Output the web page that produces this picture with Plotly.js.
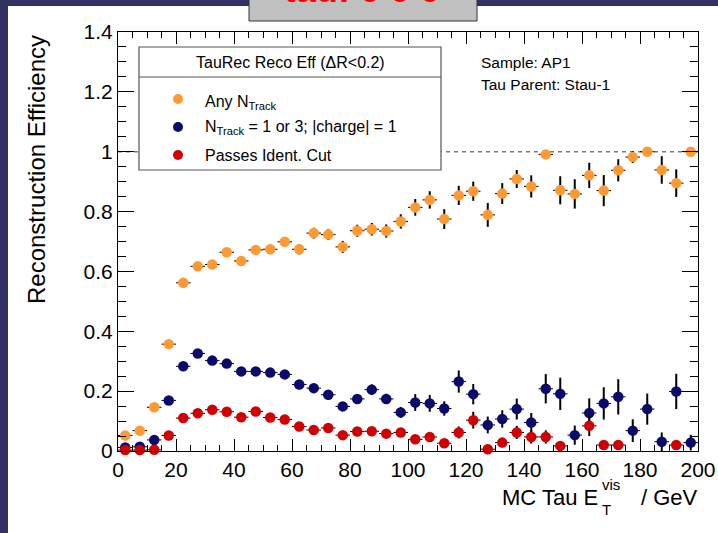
<!DOCTYPE html>
<html>
<head>
<meta charset="utf-8">
<script src="https://cdn.plot.ly/plotly-3.0.1.min.js"></script>
<style>
  html, body { margin: 0; padding: 0; background: #313163; }
  #chart { width: 718px; height: 533px; }
</style>
</head>
<body>
<div id="chart"></div>
<script>
// Bin centres of the visible-ET histogram (5 GeV bins)
const etBins = [2.5, 7.5, 12.5, 17.5, 22.5, 27.5, 32.5, 37.5, 42.5, 47.5,
                52.5, 57.5, 62.5, 67.5, 72.5, 77.5, 82.5, 87.5, 92.5, 97.5,
                102.5, 107.5, 112.5, 117.5, 122.5, 127.5, 132.5, 137.5, 142.5, 147.5,
                152.5, 157.5, 162.5, 167.5, 172.5, 177.5, 182.5, 187.5, 192.5, 197.5];
const binHalfWidth = 2.5;

// Any N_Track
const effAny = [0.052, 0.068, 0.146, 0.357, 0.562, 0.617, 0.623, 0.664, 0.635, 0.672,
                0.674, 0.699, 0.674, 0.728, 0.723, 0.682, 0.736, 0.741, 0.735, 0.767,
                0.814, 0.839, 0.775, 0.854, 0.868, 0.789, 0.860, 0.909, 0.884, 0.991,
                0.871, 0.859, 0.921, 0.870, 0.938, 0.982, 1.000, 0.939, 0.895, 1.000];
const errAny = [0.006, 0.008, 0.010, 0.012, 0.012, 0.013, 0.013, 0.014, 0.014, 0.015,
                0.015, 0.016, 0.017, 0.018, 0.018, 0.020, 0.020, 0.021, 0.022, 0.024,
                0.028, 0.029, 0.033, 0.032, 0.032, 0.040, 0.035, 0.030, 0.037, 0.010,
                0.047, 0.049, 0.042, 0.052, 0.037, 0.020, 0.010, 0.046, 0.046, 0.000];

// N_Track = 1 or 3, |charge| = 1
const effTrk = [0.012, 0.014, 0.037, 0.169, 0.283, 0.326, 0.302, 0.292, 0.266, 0.266,
                0.262, 0.256, 0.222, 0.210, 0.188, 0.149, 0.174, 0.205, 0.174, 0.129,
                0.162, 0.159, 0.142, 0.232, 0.190, 0.087, 0.107, 0.140, 0.095, 0.208,
                0.191, 0.053, 0.127, 0.159, 0.181, 0.068, 0.140, 0.031, 0.199, 0.028];
const errTrk = [0.005, 0.006, 0.008, 0.012, 0.012, 0.012, 0.012, 0.012, 0.012, 0.013,
                0.013, 0.014, 0.014, 0.015, 0.015, 0.015, 0.016, 0.018, 0.017, 0.018,
                0.028, 0.028, 0.024, 0.037, 0.034, 0.028, 0.029, 0.035, 0.032, 0.049,
                0.054, 0.032, 0.049, 0.054, 0.059, 0.038, 0.052, 0.031, 0.059, 0.026];

// Passes identification cut (empty bins left out)
const effId = [0.003, 0.003, 0.004, 0.052, 0.110, 0.126, 0.138, 0.131, 0.113, 0.132,
               0.112, 0.105, 0.082, 0.070, 0.077, 0.053, 0.065, 0.066, 0.058, 0.062,
               0.039, 0.047, 0.026, 0.062, 0.103, 0.006, 0.028, 0.062, 0.047, 0.047,
               0.017, null, 0.084, 0.020, 0.020, null, null, null, 0.020, null];
const errId = [0.003, 0.003, 0.004, 0.008, 0.010, 0.010, 0.010, 0.010, 0.010, 0.010,
               0.010, 0.010, 0.010, 0.010, 0.010, 0.010, 0.010, 0.010, 0.010, 0.010,
               0.015, 0.016, 0.012, 0.020, 0.028, 0.006, 0.015, 0.022, 0.022, 0.022,
               0.012, 0, 0.034, 0.014, 0.014, 0, 0, 0, 0.014, 0];

const seriesNames = ['Any N<sub>Track</sub>',
                     'N<sub>Track</sub> = 1 or 3; |charge| = 1',
                     'Passes Ident. Cut'];
const seriesColors = ['#ff9933', '#0a0a6b', '#d20000'];

const FONT = 'Liberation Sans, Arial, Helvetica, sans-serif';

// frame geometry (pixels) used to place the hand-built legend and labels
const W = 718, H = 533;
const M = { l: 118, r: 20, t: 32, b: 82 };
const pw = W - M.l - M.r, ph = H - M.t - M.b;
const px = x => (x - M.l) / pw;
const py = y => (H - M.b - y) / ph;

function series(yv, err, color) {
  return {
    type: 'scatter', mode: 'markers', x: etBins, y: yv,
    cliponaxis: false, showlegend: false, hoverinfo: 'x+y',
    marker: { color: color, size: 10.5, line: { width: 0 } },
    error_x: { type: 'constant', value: binHalfWidth, color: '#000', thickness: 1, width: 0 },
    error_y: { type: 'data', array: err, color: '#000', thickness: 2, width: 0 }
  };
}

const traces = [
  series(effAny, errAny, seriesColors[0]),
  series(effTrk, errTrk, seriesColors[1]),
  series(effId, errId, seriesColors[2])
];

const shapes = [
  // white pad on the dark canvas
  { type: 'rect', xref: 'paper', yref: 'paper', layer: 'below',
    x0: px(8), x1: px(W + 2), y0: py(6), y1: py(H + 2),
    fillcolor: '#ffffff', line: { width: 0 } },
  // efficiency = 1 reference line
  { type: 'line', xref: 'x', yref: 'y', layer: 'below',
    x0: 0, x1: 200, y0: 1, y1: 1,
    line: { color: '#7a7a7a', width: 1.5, dash: '4px,4px' } },
  // legend box and header divider
  { type: 'rect', xref: 'paper', yref: 'paper', layer: 'above',
    x0: px(139), x1: px(441), y0: py(170), y1: py(47),
    fillcolor: '#ffffff', line: { color: '#555555', width: 1.2 } },
  { type: 'line', xref: 'paper', yref: 'paper', layer: 'above',
    x0: px(139), x1: px(441), y0: py(77), y1: py(77),
    line: { color: '#555555', width: 1.2 } },
  // title box
  { type: 'rect', xref: 'paper', yref: 'paper', layer: 'above',
    x0: px(249), x1: px(477), y0: py(21), y1: py(-10),
    fillcolor: '#c0c0c0', line: { color: '#333333', width: 1 } }
];

// legend markers
const legendRows = [99, 127, 155];
legendRows.forEach((yy, i) => {
  shapes.push({ type: 'circle', xref: 'paper', yref: 'paper', layer: 'above',
    x0: px(173), x1: px(183), y0: py(yy + 5), y1: py(yy - 5),
    fillcolor: seriesColors[i], line: { width: 0 } });
});

const annotations = [
  { text: 'tau: 0 0 0', xref: 'paper', yref: 'paper', x: px(362), y: py(12),
    xanchor: 'center', yanchor: 'bottom', showarrow: false,
    font: { family: FONT, size: 36, color: '#ff0000', weight: 'bold' } },
  { text: 'TauRec Reco Eff (ΔR<0.2)', xref: 'paper', yref: 'paper', x: px(290), y: py(62),
    xanchor: 'center', yanchor: 'middle', showarrow: false,
    font: { family: FONT, size: 16, color: '#000' } },
  { text: 'Sample: AP1', xref: 'paper', yref: 'paper', x: px(479), y: py(63),
    xanchor: 'left', yanchor: 'middle', showarrow: false,
    font: { family: FONT, size: 15.5, color: '#000' } },
  { text: 'Tau Parent: Stau-1', xref: 'paper', yref: 'paper', x: px(479), y: py(85),
    xanchor: 'left', yanchor: 'middle', showarrow: false,
    font: { family: FONT, size: 15.5, color: '#000' } },
  // axis titles
  { text: 'Reconstruction Efficiency', xref: 'paper', yref: 'paper', x: px(37), y: py(170),
    xanchor: 'center', yanchor: 'middle', textangle: -90, showarrow: false,
    font: { family: FONT, size: 24, color: '#000' } },
  { text: 'MC Tau E', xref: 'paper', yref: 'paper', x: px(600), y: py(497),
    xanchor: 'right', yanchor: 'middle', showarrow: false,
    font: { family: FONT, size: 22, color: '#000' } },
  { text: 'vis', xref: 'paper', yref: 'paper', x: px(600), y: py(484),
    xanchor: 'left', yanchor: 'middle', showarrow: false,
    font: { family: FONT, size: 15, color: '#000' } },
  { text: 'T', xref: 'paper', yref: 'paper', x: px(600), y: py(510),
    xanchor: 'left', yanchor: 'middle', showarrow: false,
    font: { family: FONT, size: 15, color: '#000' } },
  { text: '/ GeV', xref: 'paper', yref: 'paper', x: px(700), y: py(497),
    xanchor: 'right', yanchor: 'middle', showarrow: false,
    font: { family: FONT, size: 22, color: '#000' } }
];

// legend labels
[103, 127, 155].forEach((yy, i) => {
  annotations.push({ text: seriesNames[i], xref: 'paper', yref: 'paper',
    x: px(203), y: py(yy), xanchor: 'left', yanchor: 'middle', showarrow: false,
    font: { family: FONT, size: 16, color: '#000' } });
});

const layout = {
  width: W, height: H,
  margin: M,
  paper_bgcolor: '#313163',
  plot_bgcolor: '#ffffff',
  showlegend: false,
  font: { family: FONT, size: 21, color: '#000' },
  xaxis: {
    range: [0, 200], dtick: 20, tick0: 0,
    showline: true, linecolor: '#000', linewidth: 1, mirror: 'ticks',
    ticks: 'inside', ticklen: 12, tickcolor: '#000', tickwidth: 1,
    minor: { dtick: 5, ticks: 'inside', ticklen: 6, tickcolor: '#000', tickwidth: 1 },
    showgrid: false, zeroline: false,
    tickfont: { family: FONT, size: 21, color: '#000' }
  },
  yaxis: {
    range: [0, 1.4], dtick: 0.2, tick0: 0,
    showline: true, linecolor: '#000', linewidth: 1, mirror: 'ticks',
    ticks: 'inside', ticklen: 16, tickcolor: '#000', tickwidth: 1,
    minor: { dtick: 0.05, ticks: 'inside', ticklen: 8, tickcolor: '#000', tickwidth: 1 },
    showgrid: false, zeroline: false,
    tickfont: { family: FONT, size: 21, color: '#000' }
  },
  shapes: shapes,
  annotations: annotations
};

Plotly.newPlot('chart', traces, layout, { displayModeBar: false, staticPlot: true });
</script>
</body>
</html>
